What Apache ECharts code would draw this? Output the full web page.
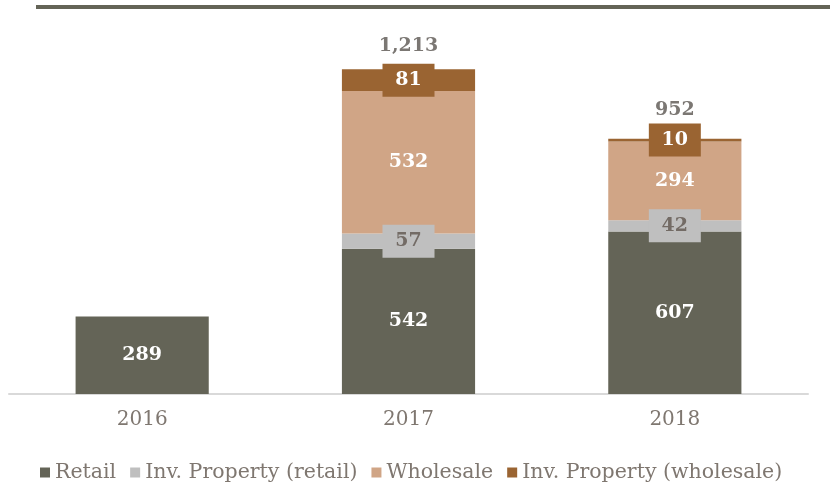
<!DOCTYPE html>
<html>
<head>
<meta charset="utf-8">
<script src="https://cdn.jsdelivr.net/npm/echarts@6/dist/echarts.min.js"></script>
<style>html,body{margin:0;padding:0;background:#fff}#c{width:830px;height:482px}</style>
</head>
<body>
<div id="c"></div>
<script>
const categories = ['2016', '2017', '2018'];
const retail = [289, 542, 607];
const invPropertyRetail = [null, 57, 42];
const wholesale = [null, 532, 294];
const invPropertyWholesale = [null, 81, 10];
const totals = [null, 1213, 952];
const totalLabelDistance = [0, 13, 19];

const FONT = 'DejaVu Serif';
const TXT = '#7f7770';
const colors = ['#646457', '#bfbfbf', '#d0a586', '#9a6432'];

const boxLabel = (bg, fg) => ({
  show: true, position: 'inside', fontFamily: FONT, fontWeight: 'bold', fontSize: 19,
  color: fg, backgroundColor: bg, width: 52, height: 33, lineHeight: 33,
  align: 'center', verticalAlign: 'middle', padding: 0
});
const plainLabel = (fg) => ({
  show: true, position: 'inside', fontFamily: FONT, fontWeight: 'bold', fontSize: 19, color: fg
});

const chart = echarts.init(document.getElementById('c'), null, {renderer: 'canvas'});
chart.setOption({
  animation: false,
  graphic: [{type: 'rect', shape: {x: 36, y: 5, width: 794, height: 4}, style: {fill: '#646457'}}],
  grid: {left: 9, right: 22, top: 19, bottom: 88},
  legend: {
    data: ['Retail', 'Inv. Property (retail)', 'Wholesale', 'Inv. Property (wholesale)'],
    top: 457, left: 35, itemWidth: 10, itemHeight: 10, itemGap: 14,
    icon: 'rect',
    textStyle: {fontFamily: FONT, fontSize: 20.5, color: TXT}
  },
  xAxis: {
    type: 'category', data: categories,
    axisLine: {lineStyle: {color: '#d9d9d9', width: 2}},
    axisTick: {show: false},
    axisLabel: {fontFamily: FONT, fontSize: 20, color: TXT, margin: 16}
  },
  yAxis: {type: 'value', min: 0, max: 1400, show: false, splitLine: {show: false}},
  series: [
    {name: 'Retail', type: 'bar', stack: 'a', barWidth: '50%', data: retail,
     itemStyle: {color: colors[0]}, label: plainLabel('#ffffff')},
    {name: 'Inv. Property (retail)', type: 'bar', stack: 'a', data: invPropertyRetail,
     itemStyle: {color: colors[1]}, label: boxLabel(colors[1], '#736b65')},
    {name: 'Wholesale', type: 'bar', stack: 'a', data: wholesale,
     itemStyle: {color: colors[2]}, label: plainLabel('#ffffff')},
    {name: 'Inv. Property (wholesale)', type: 'bar', stack: 'a', data: invPropertyWholesale,
     itemStyle: {color: colors[3]}, label: boxLabel(colors[3], '#ffffff')},
    {name: 'Total', type: 'scatter', symbolSize: 1, itemStyle: {color: 'rgba(0,0,0,0)'},
     data: totals.map((v, i) => v == null ? null : {value: v, label: {distance: totalLabelDistance[i]}}),
     label: {show: true, position: 'top', fontFamily: FONT, fontWeight: 'bold', fontSize: 19, color: '#5a5550',
       formatter: p => Number(p.value).toLocaleString('en-US')}}
  ]
});
</script>
</body>
</html>
